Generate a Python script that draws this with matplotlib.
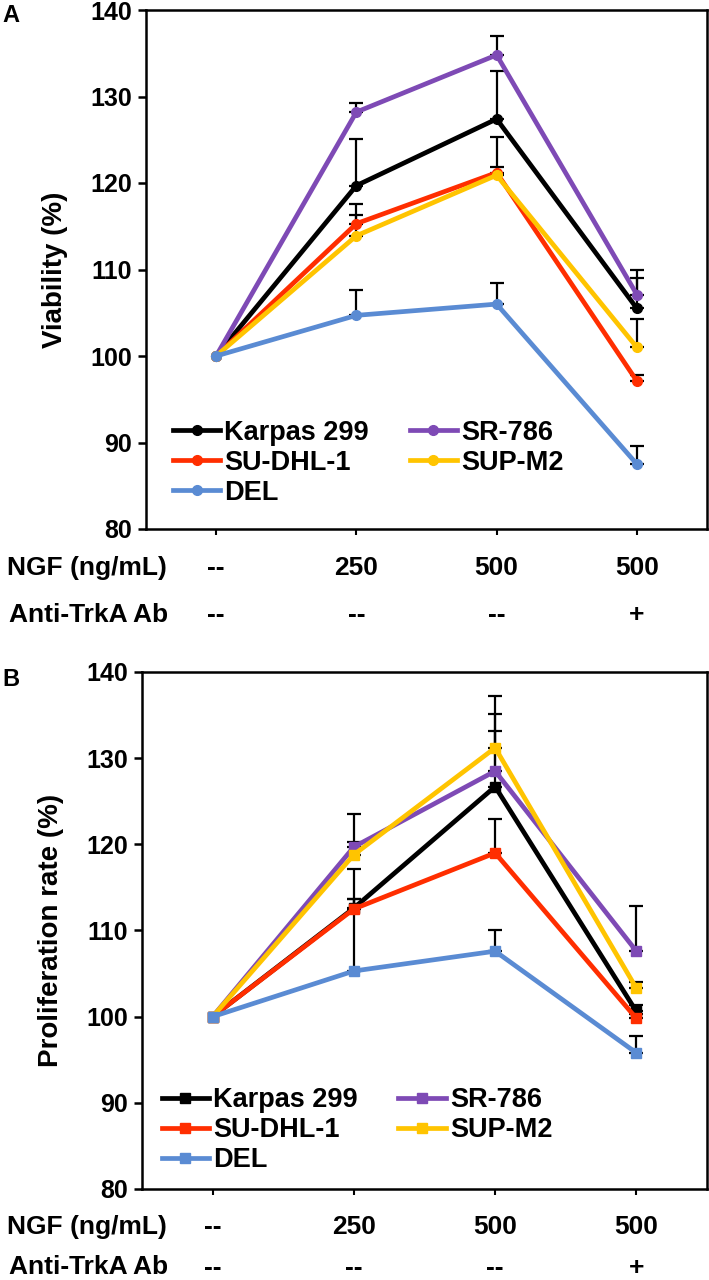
import numpy as np
import matplotlib
matplotlib.use('Agg')
import matplotlib.pyplot as plt

plt.rcParams['font.family'] = ['Liberation Sans', 'DejaVu Sans']
plt.rcParams['font.weight'] = 'bold'

# Conditions along the x axis
ngf_labels = ['--', '250', '500', '500']
ab_labels = ['--', '--', '--', '+']

series = ['Karpas 299', 'SU-DHL-1', 'SR-786', 'SUP-M2', 'DEL']
colors = ['#000000', '#FF2E00', '#7E4AB5', '#FFC400', '#5A8BD3']

# Panel A: viability (%)
karpas_a = [100, 119.7, 127.4, 105.5]
sudhl_a = [100, 115.3, 121.2, 97.1]
sr786_a = [100, 128.2, 134.8, 107.1]
supm2_a = [100, 113.9, 120.9, 101.0]
del_a = [100, 104.7, 106.0, 87.5]

karpas_a_err = [0, 5.4, 5.5, 3.5]
sudhl_a_err = [0, 1.0, 0.6, 0.7]
sr786_a_err = [0, 1.1, 2.2, 2.9]
supm2_a_err = [0, 3.7, 4.4, 3.3]
del_a_err = [0, 2.9, 2.4, 2.1]

# Panel B: proliferation rate (%)
karpas_b = [100, 112.6, 126.7, 100.6]
sudhl_b = [100, 112.5, 119.0, 99.8]
sr786_b = [100, 119.7, 128.5, 107.6]
supm2_b = [100, 118.8, 131.2, 103.3]
del_b = [100, 105.3, 107.6, 95.8]

karpas_b_err = [0, 4.5, 6.5, 0.8]
sudhl_b_err = [0, 1.2, 3.9, 0.5]
sr786_b_err = [0, 3.8, 6.6, 5.3]
supm2_b_err = [0, 1.5, 6.0, 0.7]
del_b_err = [0, 8.3, 2.4, 2.0]


def draw_panel(ax, values, errors, marker, ylabel, row_y):
    x = np.arange(len(ngf_labels))
    handles = {}
    # error bars first (upper only, black), lines on top
    for vals, errs in zip(values, errors):
        v = np.array(vals[1:])
        e = np.array(errs[1:])
        ax.errorbar(x[1:], v, yerr=[np.zeros_like(e), e], fmt='none',
                    ecolor='black', elinewidth=1.6, capsize=5, capthick=1.6,
                    zorder=2)
    for name, vals, c in zip(series, values, colors):
        h, = ax.plot(x, vals, color=c, lw=3.4, marker=marker, ms=7,
                     mec=c, mfc=c, zorder=3, label=name)
        handles[name] = h

    ax.set_xlim(-0.5, 3.5)
    ax.set_ylim(80, 140)
    ax.set_yticks(np.arange(80, 141, 10))
    ax.set_xticks(x)
    ax.set_xticklabels([])
    ax.tick_params(axis='y', labelsize=18, width=1.8, length=6, pad=4)
    ax.tick_params(axis='x', width=1.5, length=4)
    for lab in ax.get_yticklabels():
        lab.set_fontweight('bold')
    for s in ax.spines.values():
        s.set_linewidth(1.8)
    ax.set_ylabel(ylabel, fontsize=20, fontweight='bold', labelpad=16)

    # condition rows under the axis
    tr = ax.get_xaxis_transform()
    for xi, (n, a) in enumerate(zip(ngf_labels, ab_labels)):
        ax.text(xi, row_y[0], n, transform=tr, ha='center', va='center',
                fontsize=19, fontweight='bold')
        ax.text(xi, row_y[1], a, transform=tr, ha='center', va='center',
                fontsize=19, fontweight='bold')

    order = ['Karpas 299', 'SU-DHL-1', 'DEL', 'SR-786', 'SUP-M2']
    return [handles[n] for n in order], order


fig = plt.figure(figsize=(7.09, 12.8), dpi=100)

W, H = 709.0, 1280.0
ax_a = fig.add_axes([146 / W, 1 - 529 / H, 561 / W, 519 / H])
ax_b = fig.add_axes([142 / W, 1 - 1189 / H, 565 / W, 517 / H])

vals_a = [karpas_a, sudhl_a, sr786_a, supm2_a, del_a]
errs_a = [karpas_a_err, sudhl_a_err, sr786_a_err, supm2_a_err, del_a_err]
vals_b = [karpas_b, sudhl_b, sr786_b, supm2_b, del_b]
errs_b = [karpas_b_err, sudhl_b_err, sr786_b_err, supm2_b_err, del_b_err]

hA, lA = draw_panel(ax_a, vals_a, errs_a, 'o', 'Viability (%)', (-0.075, -0.166))
hB, lB = draw_panel(ax_b, vals_b, errs_b, 's', 'Proliferation rate (%)', (-0.0735, -0.153))

leg_kw = dict(ncol=2, frameon=False, fontsize=19.5, handlelength=1.75,
              handletextpad=0.15, columnspacing=1.5, labelspacing=0.15,
              borderpad=0, borderaxespad=0, loc='lower left')
leg = ax_a.legend(hA, lA, bbox_to_anchor=(0.048, 0.045), **leg_kw)
for t in leg.get_texts():
    t.set_fontweight('bold')
leg = ax_b.legend(hB, lB, bbox_to_anchor=(0.035, 0.03), **leg_kw)
for t in leg.get_texts():
    t.set_fontweight('bold')

# row labels on the left
for y in (568, 1227):
    fig.text(87 / W, 1 - y / H, 'NGF (ng/mL)', ha='center', va='center',
             fontsize=19, fontweight='bold')
for y in (615, 1267):
    fig.text(89 / W, 1 - y / H, 'Anti-TrkA Ab', ha='center', va='center',
             fontsize=19, fontweight='bold')

# panel letters
fig.text(2 / W, 1 - 15 / H, 'A', ha='left', va='center', fontsize=17, fontweight='bold')
fig.text(2 / W, 1 - 680 / H, 'B', ha='left', va='center', fontsize=17, fontweight='bold')

fig.savefig('out.png', dpi=100)
